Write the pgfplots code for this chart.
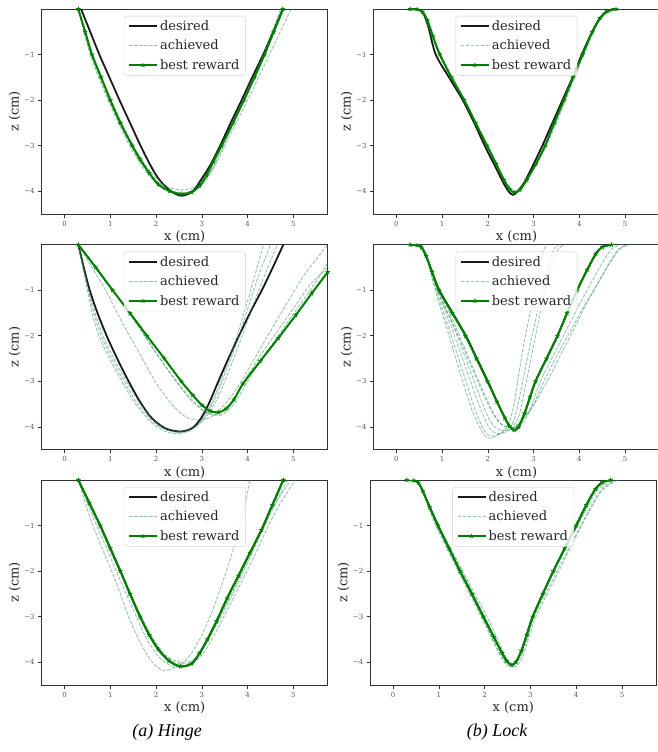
\documentclass[border=0pt]{standalone}
\usepackage{fontspec}
\setmainfont{DejaVu Serif}
\newfontfamily\capfont{Liberation Serif}
\usepackage{pgfplots}
\pgfplotsset{compat=1.18}

\definecolor{desc}{HTML}{1A1A1A}
\definecolor{achc}{HTML}{2E8B57}
\definecolor{bestc}{HTML}{008000}
\definecolor{spine}{HTML}{333333}
\definecolor{lab}{HTML}{262626}

\pgfplotsset{
  panel/.style={
    scale only axis, width=286pt, height=205pt,
    anchor=north west,
    xmin=-0.5, xmax=5.75, ymin=-4.5, ymax=0,
    xtick={0,1,2,3,4,5}, xticklabels={0,1,2,3,4,5},
    ytick={-4,-3,-2,-1}, yticklabels={−4,−3,−2,−1},
    tick align=outside, xtick pos=bottom, ytick pos=left,
    major tick length=3.5pt,
    every tick/.style={spine, line width=0.7pt},
    axis line style={spine, line width=0.8pt},
    ticklabel style={font=\fontsize{7}{8}\selectfont, text=black!65},
    xlabel={x (cm)}, ylabel={z (cm)},
    label style={font=\fontsize{13}{15}\selectfont, text=lab},
    xlabel style={at={(axis description cs:0.5,-0.112)}, anchor=center},
    ylabel style={at={(axis description cs:-0.094,0.5)}, anchor=center},
    legend style={at={(0.5,0.966)}, anchor=north, draw=black!18, fill=white,
      fill opacity=0.8, text opacity=1, draw opacity=1, rounded corners=2.5pt,
      font=\fontsize{13}{15}\selectfont, text=lab, inner xsep=4pt, inner ysep=2.5pt,
      row sep=4pt, cells={anchor=west}},
    legend image code/.code={\draw[mark repeat=2,mark phase=2,#1]
      plot coordinates {(0pt,0pt) (14pt,0pt) (28pt,0pt)};},
    legend entries={desired, achieved, best reward},
  },
  des/.style={desc, line width=1.8pt, smooth, no marks},
  ach/.style={achc, opacity=0.5, line width=0.9pt, dash pattern=on 3.5pt off 1.5pt, smooth, no marks},
  best/.style={bestc, line width=2pt, smooth, mark=star, mark size=2.3pt, mark options={solid, line width=0.9pt}},
}

\begin{document}
\begin{tikzpicture}
\path[use as bounding box] (0,0) rectangle (657pt,-752pt);

% ---- Hinge, row 1
\begin{axis}[panel, at={(41.7pt,-9pt)}]
\addplot[des] coordinates {(0.36,0) (0.56,-0.5) (0.76,-1) (0.98,-1.5) (1.2,-2) (1.43,-2.5) (1.66,-3) (1.86,-3.4) (2.05,-3.72) (2.3,-3.98) (2.55,-4.1) (2.8,-4.0) (3.0,-3.72) (3.2,-3.4) (3.4,-3) (3.63,-2.5) (3.87,-2) (4.1,-1.5) (4.34,-1) (4.56,-0.5) (4.77,0)};
\addplot[ach] coordinates {(0.3,0) (0.58,-1) (0.97,-2) (1.45,-3) (1.8,-3.55) (2.1,-3.85) (2.45,-4.02) (2.75,-4.0) (3.05,-3.8) (3.4,-3.1) (3.85,-2.1) (4.3,-1.1) (4.72,0)};
\addplot[ach, forget plot] coordinates {(0.3,0) (0.6,-1) (1.02,-2) (1.5,-3) (1.9,-3.6) (2.25,-3.9) (2.6,-3.97) (2.95,-3.85) (3.25,-3.5) (3.6,-2.8) (4.05,-1.9) (4.5,-0.95) (4.95,0)};
\addplot[ach, forget plot] coordinates {(0.3,0) (0.56,-1) (0.95,-2) (1.42,-3) (1.8,-3.6) (2.15,-3.95) (2.5,-4.05) (2.8,-4.0) (3.1,-3.75) (3.45,-3.05) (3.9,-2.05) (4.35,-1.05) (4.8,0)};
\addplot[best] coordinates {(0.3,0) (0.45,-0.5) (0.6,-1) (0.8,-1.5) (1.0,-2) (1.22,-2.5) (1.48,-3) (1.65,-3.3) (1.85,-3.6) (2.05,-3.85) (2.3,-4.0) (2.55,-4.06) (2.78,-4.02) (2.95,-3.88) (3.1,-3.65) (3.25,-3.35) (3.43,-3.0) (3.68,-2.5) (3.92,-2) (4.15,-1.5) (4.37,-1) (4.57,-0.5) (4.77,0)};
\end{axis}

% ---- Lock, row 1
\begin{axis}[panel, at={(373.5pt,-9pt)}]
\addplot[des] coordinates {(0.3,0) (0.5,-0.02) (0.6,-0.12) (0.7,-0.4) (0.86,-1) (1.15,-1.5) (1.45,-2) (1.7,-2.5) (1.93,-3) (2.13,-3.4) (2.33,-3.8) (2.45,-4.0) (2.55,-4.08) (2.65,-4.0) (2.8,-3.8) (3.0,-3.4) (3.19,-3) (3.41,-2.5) (3.63,-2) (3.85,-1.5) (4.05,-1) (4.28,-0.5) (4.45,-0.2) (4.6,-0.05) (4.75,0)};
\addplot[ach] coordinates {(0.3,0) (0.55,-0.05) (0.7,-0.4) (0.93,-1) (1.47,-2) (1.97,-3) (2.35,-3.78) (2.57,-4.02) (2.8,-3.8) (3.25,-3) (3.68,-2) (4.08,-1) (4.45,-0.2) (4.8,0)};
\addplot[ach, forget plot] coordinates {(0.3,0) (0.55,-0.05) (0.72,-0.4) (0.97,-1) (1.5,-2) (2.0,-3) (2.37,-3.75) (2.6,-4.0) (2.83,-3.78) (3.28,-3) (3.7,-2) (4.1,-1) (4.48,-0.2) (4.85,0)};
\addplot[best] coordinates {(0.3,0) (0.45,-0.01) (0.57,-0.06) (0.68,-0.25) (0.8,-0.6) (0.95,-1) (1.2,-1.5) (1.48,-2) (1.73,-2.5) (1.98,-3) (2.18,-3.4) (2.35,-3.75) (2.47,-3.95) (2.58,-4.03) (2.7,-3.97) (2.85,-3.75) (3.05,-3.4) (3.25,-3.0) (3.45,-2.5) (3.66,-2) (3.86,-1.5) (4.07,-1) (4.28,-0.5) (4.45,-0.2) (4.6,-0.05) (4.8,0)};
\end{axis}

% ---- Hinge, row 2
\begin{axis}[panel, at={(41.7pt,-244.7pt)}]
\addplot[des] coordinates {(0.3,0) (0.42,-0.5) (0.55,-1) (0.72,-1.5) (0.92,-2) (1.15,-2.5) (1.4,-3) (1.65,-3.45) (1.9,-3.8) (2.2,-4.03) (2.53,-4.1) (2.8,-4.02) (3.0,-3.78) (3.17,-3.45) (3.36,-3.0) (3.58,-2.5) (3.81,-2) (4.05,-1.5) (4.31,-1) (4.55,-0.5) (4.78,0)};
\addplot[ach] coordinates {(0.3,0) (0.4,-0.5) (0.5,-1) (0.6,-1.5) (0.75,-2) (0.98,-2.5) (1.25,-3) (1.55,-3.5) (1.9,-3.9) (2.2,-4.1) (2.45,-4.15) (2.7,-4.1) (2.95,-3.9) (3.2,-3.5) (3.45,-2.9) (3.7,-2.2) (3.95,-1.4) (4.15,-0.7) (4.35,0)};
\addplot[ach, forget plot] coordinates {(0.3,0) (0.41,-0.5) (0.52,-1) (0.64,-1.5) (0.8,-2) (1.03,-2.5) (1.3,-3) (1.6,-3.5) (1.95,-3.9) (2.25,-4.08) (2.5,-4.12) (2.78,-4.05) (3.03,-3.82) (3.28,-3.4) (3.52,-2.8) (3.78,-2.1) (4.02,-1.35) (4.25,-0.65) (4.5,0)};
\addplot[ach, forget plot] coordinates {(0.3,0) (0.41,-0.5) (0.53,-1) (0.67,-1.5) (0.84,-2) (1.08,-2.5) (1.35,-3) (1.66,-3.5) (2.0,-3.9) (2.3,-4.06) (2.55,-4.1) (2.83,-4.02) (3.1,-3.78) (3.35,-3.35) (3.6,-2.75) (3.88,-2.0) (4.15,-1.25) (4.4,-0.6) (4.65,0)};
\addplot[ach, forget plot] coordinates {(0.3,0) (0.6,-0.5) (0.9,-1) (1.15,-1.5) (1.42,-2) (1.7,-2.5) (1.98,-3) (2.3,-3.45) (2.6,-3.75) (2.9,-3.85) (3.2,-3.78) (3.5,-3.5) (3.8,-3.1) (4.15,-2.5) (4.5,-1.9) (4.85,-1.3) (5.25,-0.65) (5.75,0)};
\addplot[ach, forget plot] coordinates {(0.3,0) (0.7,-0.5) (1.05,-1) (1.55,-1.7) (2.05,-2.45) (2.45,-3.0) (2.8,-3.42) (3.1,-3.68) (3.4,-3.75) (3.7,-3.5) (4.0,-3.0) (4.35,-2.45) (4.7,-1.95) (5.05,-1.45) (5.4,-0.95) (5.75,-0.4)};
\addplot[ach, forget plot] coordinates {(0.3,0) (0.7,-0.5) (1.05,-1) (1.55,-1.7) (2.05,-2.45) (2.42,-2.98) (2.75,-3.4) (3.05,-3.66) (3.35,-3.72) (3.65,-3.45) (3.95,-2.95) (4.3,-2.4) (4.65,-1.9) (5.0,-1.4) (5.35,-0.9) (5.75,-0.5)};
\addplot[best] coordinates {(0.3,0) (0.68,-0.5) (1.05,-1) (1.43,-1.5) (1.8,-2) (2.18,-2.5) (2.55,-3) (2.8,-3.3) (3.0,-3.52) (3.18,-3.65) (3.36,-3.68) (3.53,-3.6) (3.7,-3.4) (3.9,-3.05) (4.28,-2.55) (4.67,-2.05) (5.05,-1.55) (5.4,-1.07) (5.75,-0.6)};
\end{axis}

% ---- Lock, row 2
\begin{axis}[panel, at={(373.5pt,-244.7pt)}]
\addplot[des] coordinates {(0.3,0) (0.45,-0.01) (0.55,-0.06) (0.65,-0.25) (0.78,-0.6) (0.94,-1) (1.23,-1.5) (1.52,-2) (1.76,-2.5) (2.0,-3) (2.2,-3.45) (2.37,-3.8) (2.47,-3.98) (2.57,-4.07) (2.67,-4.0) (2.8,-3.7) (2.92,-3.35) (3.04,-3) (3.28,-2.5) (3.52,-2) (3.73,-1.5) (3.95,-1) (4.17,-0.55) (4.36,-0.2) (4.5,-0.05) (4.7,0)};
\addplot[ach] coordinates {(0.3,0) (0.55,-0.05) (0.68,-0.35) (0.85,-1) (1.15,-2) (1.45,-3) (1.68,-3.7) (1.9,-4.15) (2.05,-4.25) (2.25,-4.15) (2.45,-3.95) (2.57,-3.5) (2.65,-3.0) (2.73,-2.5) (2.82,-2.0) (2.92,-1.5) (3.02,-1.0) (3.12,-0.5) (3.2,-0.15) (3.3,0)};
\addplot[ach, forget plot] coordinates {(0.3,0) (0.55,-0.05) (0.68,-0.35) (0.87,-1) (1.2,-2) (1.52,-3) (1.75,-3.7) (1.95,-4.12) (2.12,-4.2) (2.35,-4.1) (2.55,-3.9) (2.68,-3.4) (2.78,-2.9) (2.88,-2.4) (2.99,-1.9) (3.1,-1.4) (3.22,-0.9) (3.33,-0.45) (3.43,-0.12) (3.55,0)};
\addplot[ach, forget plot] coordinates {(0.3,0) (0.55,-0.05) (0.7,-0.35) (0.9,-1) (1.27,-2) (1.62,-3) (1.88,-3.7) (2.05,-4.05) (2.25,-4.15) (2.5,-4.05) (2.75,-3.85) (3.0,-3.5) (3.2,-3.05) (3.5,-2.45) (3.8,-1.9) (4.1,-1.35) (4.4,-0.85) (4.65,-0.4) (4.85,-0.1) (5.05,0)};
\addplot[ach, forget plot] coordinates {(0.3,0) (0.55,-0.05) (0.7,-0.35) (0.92,-1) (1.33,-2) (1.7,-3) (1.97,-3.7) (2.15,-4.0) (2.4,-4.08) (2.65,-3.95) (2.88,-3.7) (3.1,-3.35) (3.32,-2.95) (3.6,-2.4) (3.88,-1.85) (4.15,-1.3) (4.43,-0.8) (4.7,-0.35) (4.9,-0.08) (5.1,0)};
\addplot[ach, forget plot] coordinates {(0.3,0) (0.55,-0.05) (0.7,-0.35) (0.9,-1) (1.35,-2) (1.78,-3) (2.05,-3.6) (2.25,-3.9) (2.45,-4.0) (2.62,-3.9) (2.72,-3.6) (2.8,-3.2) (2.9,-2.7) (3.0,-2.2) (3.12,-1.6) (3.25,-1.0) (3.38,-0.5) (3.5,-0.15) (3.65,0)};
\addplot[ach, forget plot] coordinates {(0.3,0) (0.55,-0.05) (0.72,-0.4) (0.95,-1) (1.38,-2) (1.8,-3) (2.1,-3.65) (2.3,-3.95) (2.55,-4.02) (2.78,-3.9) (2.95,-3.55) (3.15,-3.0) (3.42,-2.45) (3.7,-1.9) (3.98,-1.35) (4.25,-0.85) (4.5,-0.4) (4.7,-0.1) (4.9,0)};
\addplot[best] coordinates {(0.3,0) (0.45,-0.01) (0.55,-0.06) (0.65,-0.25) (0.78,-0.6) (0.93,-1) (1.22,-1.5) (1.51,-2) (1.75,-2.5) (1.99,-3) (2.2,-3.45) (2.37,-3.8) (2.47,-3.98) (2.57,-4.07) (2.67,-4.0) (2.8,-3.7) (2.92,-3.35) (3.04,-3) (3.28,-2.5) (3.52,-2) (3.73,-1.5) (3.95,-1) (4.17,-0.55) (4.36,-0.2) (4.5,-0.05) (4.7,0)};
\end{axis}

% ---- Hinge, row 3
\begin{axis}[panel, at={(41.7pt,-480pt)}]
\addplot[des] coordinates {(0.3,0) (0.54,-0.5) (0.78,-1) (1.0,-1.5) (1.22,-2) (1.43,-2.5) (1.65,-3) (1.85,-3.4) (2.05,-3.72) (2.28,-3.97) (2.53,-4.09) (2.78,-4.03) (2.95,-3.8) (3.12,-3.5) (3.32,-3.1) (3.55,-2.6) (3.8,-2.1) (4.05,-1.6) (4.3,-1.1) (4.54,-0.55) (4.78,0)};
\addplot[ach] coordinates {(0.3,0) (0.45,-0.5) (0.62,-1) (0.82,-1.5) (1.03,-2) (1.22,-2.5) (1.4,-3) (1.62,-3.5) (1.88,-3.95) (2.15,-4.18) (2.45,-4.1) (2.7,-3.9) (2.95,-3.5) (3.2,-2.95) (3.4,-2.4) (3.6,-1.8) (3.78,-1.2) (3.93,-0.6) (4.05,0)};
\addplot[ach, forget plot] coordinates {(0.3,0) (0.52,-0.5) (0.75,-1) (0.97,-1.5) (1.2,-2) (1.42,-2.5) (1.65,-3) (1.88,-3.45) (2.15,-3.8) (2.45,-3.98) (2.75,-3.98) (3.0,-3.75) (3.25,-3.3) (3.5,-2.85) (3.8,-2.25) (4.1,-1.6) (4.4,-0.95) (4.65,-0.45) (4.95,0)};
\addplot[ach, forget plot] coordinates {(0.3,0) (0.53,-0.5) (0.77,-1) (1.0,-1.5) (1.22,-2) (1.45,-2.5) (1.68,-3) (1.92,-3.45) (2.2,-3.85) (2.5,-4.03) (2.8,-4.0) (3.05,-3.78) (3.3,-3.35) (3.56,-2.85) (3.86,-2.25) (4.18,-1.6) (4.48,-0.95) (4.75,-0.45) (5.05,0)};
\addplot[ach, forget plot] coordinates {(0.3,0) (0.5,-0.5) (0.7,-1) (0.92,-1.5) (1.13,-2) (1.35,-2.5) (1.57,-3) (1.8,-3.5) (2.08,-3.9) (2.38,-4.1) (2.68,-4.07) (2.92,-3.85) (3.17,-3.45) (3.42,-2.95) (3.72,-2.35) (4.02,-1.7) (4.32,-1.05) (4.6,-0.5) (4.88,0)};
\addplot[best] coordinates {(0.3,0) (0.54,-0.5) (0.78,-1) (1.0,-1.5) (1.22,-2) (1.43,-2.5) (1.65,-3) (1.85,-3.4) (2.05,-3.72) (2.28,-3.97) (2.53,-4.09) (2.78,-4.03) (2.95,-3.8) (3.12,-3.5) (3.32,-3.1) (3.55,-2.6) (3.8,-2.1) (4.05,-1.6) (4.3,-1.1) (4.54,-0.55) (4.78,0)};
\end{axis}

% ---- Lock, row 3
\begin{axis}[panel, at={(370.3pt,-480pt)}]
\addplot[des] coordinates {(0.3,0) (0.45,-0.01) (0.55,-0.06) (0.65,-0.25) (0.8,-0.6) (0.98,-1) (1.22,-1.5) (1.46,-2) (1.72,-2.5) (1.97,-3) (2.2,-3.45) (2.38,-3.8) (2.48,-3.97) (2.58,-4.06) (2.68,-4.0) (2.8,-3.75) (2.92,-3.4) (3.05,-3) (3.27,-2.5) (3.5,-2) (3.75,-1.5) (4.0,-1) (4.22,-0.55) (4.42,-0.2) (4.57,-0.05) (4.75,0)};
\addplot[ach] coordinates {(0.3,0) (0.55,-0.05) (0.68,-0.35) (0.93,-1) (1.42,-2) (1.92,-3) (2.3,-3.78) (2.5,-4.08) (2.7,-3.95) (2.85,-3.6) (3.0,-3.1) (3.5,-2) (4.03,-1) (4.45,-0.25) (4.8,0)};
\addplot[ach, forget plot] coordinates {(0.3,0) (0.55,-0.05) (0.7,-0.35) (0.98,-1) (1.5,-2) (2.0,-3) (2.35,-3.72) (2.55,-4.02) (2.75,-3.95) (2.93,-3.5) (3.08,-3.0) (3.58,-2) (4.1,-1) (4.52,-0.25) (4.88,0)};
\addplot[ach, forget plot] coordinates {(0.3,0) (0.55,-0.05) (0.7,-0.35) (1.0,-1) (1.52,-2) (2.05,-3) (2.4,-3.75) (2.6,-4.1) (2.8,-3.95) (2.97,-3.45) (3.12,-3.0) (3.62,-2) (4.12,-1) (4.55,-0.25) (4.92,0)};
\addplot[ach, forget plot] coordinates {(0.3,0) (0.55,-0.05) (0.68,-0.35) (0.95,-1) (1.45,-2) (1.95,-3) (2.3,-3.75) (2.52,-4.05) (2.72,-3.95) (2.88,-3.55) (3.02,-3.05) (3.45,-2.1) (3.92,-1.1) (4.35,-0.3) (4.7,0)};
\addplot[best] coordinates {(0.3,0) (0.45,-0.01) (0.55,-0.06) (0.65,-0.25) (0.8,-0.6) (0.98,-1) (1.22,-1.5) (1.46,-2) (1.72,-2.5) (1.97,-3) (2.2,-3.45) (2.38,-3.8) (2.48,-3.97) (2.58,-4.06) (2.68,-4.0) (2.8,-3.75) (2.92,-3.4) (3.05,-3) (3.27,-2.5) (3.5,-2) (3.75,-1.5) (4.0,-1) (4.22,-0.55) (4.42,-0.2) (4.57,-0.05) (4.75,0)};
\end{axis}

\node[font=\capfont\itshape\fontsize{18}{21}\selectfont] at (167pt,-732pt) {(a) Hinge};
\node[font=\capfont\itshape\fontsize{18}{21}\selectfont] at (497pt,-732pt) {(b) Lock};
\end{tikzpicture}
\end{document}
